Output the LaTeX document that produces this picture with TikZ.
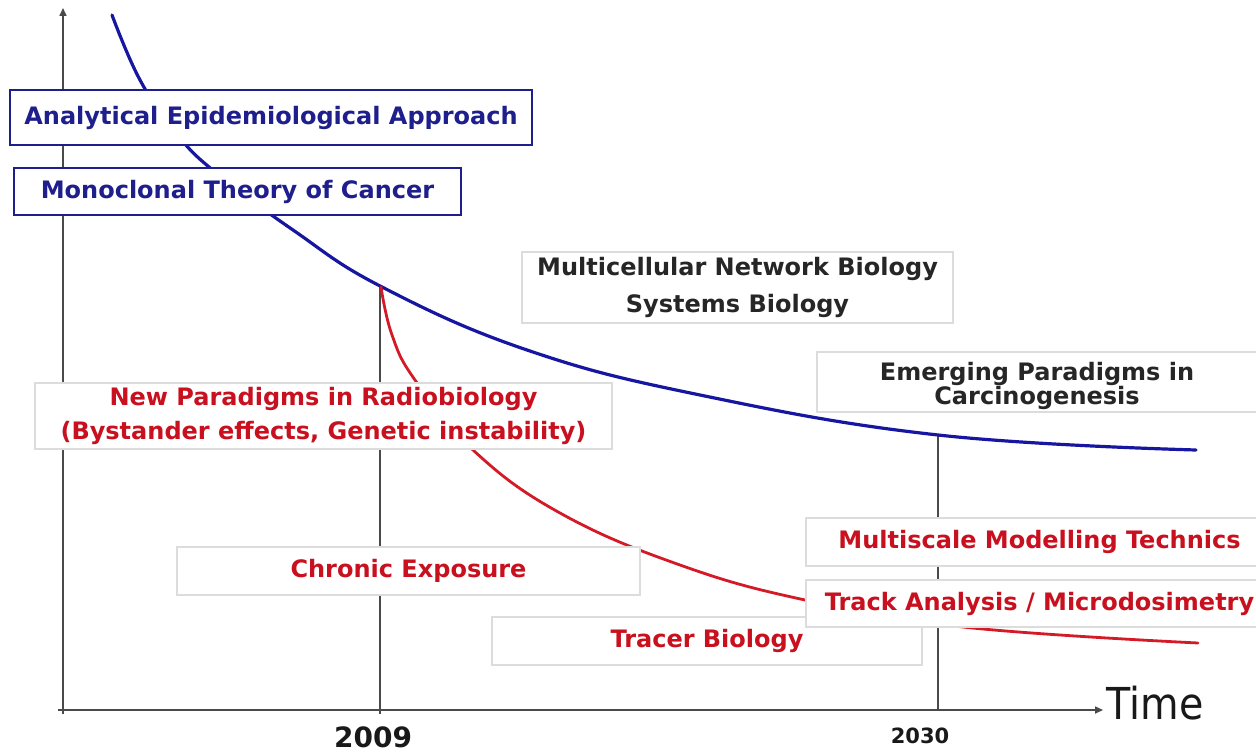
\documentclass[tikz,border=0pt]{standalone}
\usepackage{fontspec}
\setmainfont{DejaVu Sans}
\newfontfamily\timefont{DejaVu Sans}[FakeStretch=0.9]
\usetikzlibrary{arrows.meta}
\definecolor{navy}{HTML}{1E1E8C}
\definecolor{cblue}{HTML}{1616A0}
\definecolor{cred}{HTML}{D41A26}
\definecolor{tred}{HTML}{C8101E}
\definecolor{boxgray}{HTML}{DCDCDC}
\definecolor{axgray}{HTML}{4A4A4A}
\begin{document}
\begin{tikzpicture}[x=0.5pt,y=-0.5pt,
  axis/.style={axgray, line width=0.8pt},
  tip/.style={-{Triangle[length=4pt,width=3.5pt]}},
  box/.style={draw=boxgray, line width=0.6pt, fill=white, inner sep=0pt, align=center,
    font=\bfseries\fontsize{12}{17}\selectfont},
  bluebox/.style={box, draw=navy, line width=1pt, text=navy},
  redbox/.style={box, text=tred},
  blackbox/.style={box, text=black!85},
  bluecurve/.style={cblue, line width=1.6pt, line cap=round},
  redcurve/.style={cred, line width=1.4pt, line cap=round}]
\useasboundingbox (0,0) rectangle (1256,753);
\clip (0,0) rectangle (1256,753);
% axes
\coordinate (o) at (63,714);
\coordinate (ytop) at (63,8);
\coordinate (xl) at (58,710);
\coordinate (xr) at (1103,710);
\draw[axis, tip] (o) -- (ytop);
\draw[axis, tip] (xl) -- (xr);
\coordinate (b09) at (380,714);
\coordinate (t09) at (380,287);
\coordinate (b30) at (938,710);
\coordinate (t30) at (938,436);
\draw[axis] (b09) -- (t09);
\draw[axis] (b30) -- (t30);
% curves
\draw[bluecurve] plot[smooth, tension=0.7] coordinates {(112,15) (140,80) (176,133) (215,172) (293,230) (382,287) (527,350) (700,395) (938,435) (1196,450)};
\draw[redcurve] plot[smooth, tension=0.7] coordinates {(381,287) (392,335) (415,380) (473,450) (560,513) (680,565) (805,600) (963,627) (1198,643)};
% boxes
\node[bluebox, minimum width=261pt, minimum height=27.5pt] (ana) at (271,117.5) {Analytical Epidemiological Approach};
\node[bluebox, minimum width=223.5pt, minimum height=23.5pt] (mono) at (237.5,191.5) {Monoclonal Theory of Cancer};
\node[blackbox, minimum width=215.5pt, minimum height=35.5pt, font=\bfseries\fontsize{12}{18.5}\selectfont] (multi) at (737.5,287.5) {Multicellular Network Biology\\Systems Biology};
\node[blackbox, minimum width=220pt, minimum height=30pt, font=\bfseries\fontsize{12}{12}\selectfont] (emerg) at (1037,382) {};
\node[font=\bfseries\fontsize{12}{12}\selectfont, text=black!85, align=center, inner sep=0pt] (emergt) at (1037,386) {Emerging Paradigms in\\Carcinogenesis};
\node[redbox, minimum width=288.5pt, minimum height=33pt] (newp) at (323.5,416) {New Paradigms in Radiobiology\\(Bystander effects, Genetic instability)};
\node[redbox, minimum width=231.5pt, minimum height=24pt] (chron) at (408.5,571) {Chronic Exposure};
\node[redbox, minimum width=215pt, minimum height=24pt] (tracer) at (707,641) {Tracer Biology};
\node[redbox, minimum width=233.5pt, minimum height=24pt] (mscale) at (1039.5,542) {Multiscale Modelling Technics};
\node[redbox, minimum width=233.5pt, minimum height=23.5pt] (track) at (1039.5,603.5) {Track Analysis / Microdosimetry};
% labels
\node[font=\bfseries\fontsize{14}{14}\selectfont, text=black!90] (y09) at (373,737) {2009};
\node[font=\bfseries\fontsize{10.5}{10.5}\selectfont, text=black!90] (y30) at (920,736) {2030};
\node[font=\timefont\fontsize{22}{22}\selectfont, anchor=west, inner sep=0pt, text=black!90] (time) at (1106,703) {Time};
\end{tikzpicture}
\end{document}
